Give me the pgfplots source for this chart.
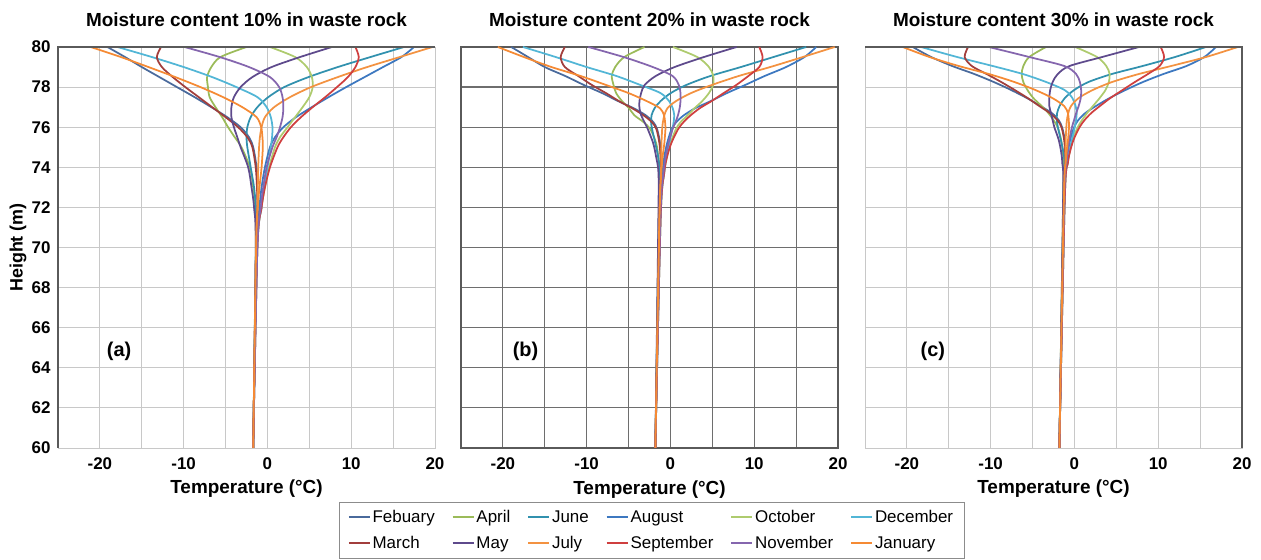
\documentclass[border=0pt]{standalone}
\usepackage{pgfplots}
\pgfplotsset{compat=1.18}
\usepackage{pgfplotstable}
\usepackage{fontspec}
\setmainfont{Liberation Sans}

% Monthly temperature profiles, height (m) against temperature (deg C)
% moisture 10 %
\pgfplotstableread{
h     Jan    Feb    Mar    Apr    May    Jun    Jul    Aug    Sep    Oct    Nov    Dec
80    -21.1  -19.1  -12.7  -2.5   7.7    16.3   19.7   17.5   10.5   0.3    -9.9   -17.9
79.5  -17.5  -17.0  -13.2  -5.6   3.9    12.3   15.8   16.0   10.9   3.3    -5.7   -13.8
79    -14.2  -15.0  -12.6  -6.7   0.5    8.4    11.9   13.8   10.5   4.7    -2.2   -10.0
78.5  -11.0  -12.9  -11.3  -7.2   -1.8   4.9    8.4    11.6   9.6    5.3    0.3    -6.6
78    -8.0   -10.8  -9.8   -7.1   -3.2   2.0    5.2    9.4    8.3    5.4    1.4    -3.7
77.5  -5.3   -8.7   -8.2   -6.9   -4.0   0.1    2.7    7.3    6.9    5.0    1.8    -1.2
77    -3.0   -6.7   -6.6   -6.2   -4.3   -1.2   0.8    5.3    5.4    4.2    1.9    -0.1
76.5  -1.3   -4.8   -5.0   -5.4   -4.3   -2.0   -0.3   3.4    4.0    3.3    1.8    0.4
76    -0.75  -3.2   -3.5   -4.7   -4.0   -2.4   -0.7   1.9    2.8    2.4    1.5    0.6
75.5  -0.6   -2.2   -2.4   -3.9   -3.6   -2.5   -0.9   0.9    1.9    1.5    1.1    0.55
75    -0.55  -1.7   -1.8   -3.1   -3.2   -2.4   -1.0   0.3    1.2    0.9    0.6    0.4
74    -0.7   -1.3   -1.4   -2.1   -2.3   -2.0   -1.1   -0.3   0.3    0.2    -0.1   0.0
73    -0.95  -1.2   -1.25  -1.7   -1.9   -1.6   -1.15  -0.7   -0.3   -0.3   -0.5   -0.4
72    -1.15  -1.2   -1.2   -1.45  -1.6   -1.4   -1.2   -0.95  -0.7   -0.7   -0.8   -0.7
70    -1.35  -1.35  -1.35  -1.4   -1.4   -1.35  -1.35  -1.3   -1.2   -1.2   -1.2   -1.2
60    -1.7   -1.7   -1.7   -1.7   -1.7   -1.7   -1.7   -1.7   -1.7   -1.7   -1.7   -1.7
}\tabA

% moisture 20 %
\pgfplotstableread{
h     Jan    Feb    Mar    Apr    May    Jun    Jul    Aug    Sep    Oct    Nov    Dec
80    -20.6  -19.0  -12.6  -3.1   7.9    16.2   19.6   17.4   10.6   0.3    -9.8   -17.6
79.5  -17.5  -17.0  -13.1  -5.5   4.0    12.3   15.8   16.0   11.0   3.2    -5.6   -13.7
79    -14.2  -15.0  -12.6  -6.6   0.5    8.4    11.9   13.8   10.6   4.6    -2.1   -10.0
78.55 -10.7  -12.54 -10.99 -7.0   -1.77  4.73   8.12   11.23  9.29   5.11   0.26   -6.43
78.1  -7.65  -10.31 -9.36  -6.79  -3.09  1.86   4.9    8.89   7.84   5.09   1.0    -3.56
77.7  -4.99  -8.15  -7.69  -6.48  -3.5   0.03   2.45   6.73   6.35   4.59   1.2    -1.18
77.3  -2.83  -6.24  -6.14  -5.78  -3.7   -1.18  0.66   4.8    4.9    3.79   1.2    -0.16
76.95 -1.26  -4.41  -4.59  -4.95  -3.7   -1.89  -0.36  2.97   3.51   2.88   1.1    0.27
76.6  -0.77  -2.97  -3.24  -4.32  -3.5   -2.25  -0.72  1.62   2.43   2.07   0.9    0.45
76.25 -0.64  -2.04  -2.22  -3.2   -3.1   -2.31  -0.9   0.68   1.56   1.21   0.6    0.38
75.9  -0.6   -1.59  -1.67  -2.4   -2.7   -2.19  -0.99  0.13   0.91   0.65   0.25   0.22
75.2  -0.73  -1.23  -1.32  -1.7   -2.06  -1.81  -1.07  -0.4   0.1    0.01   -0.24  -0.15
74.5  -0.94  -1.14  -1.18  -1.45  -1.7   -1.46  -1.1   -0.74  -0.42  -0.42  -0.58  -0.5
73.7  -1.09  -1.13  -1.13  -1.3   -1.43  -1.28  -1.13  -0.94  -0.75  -0.75  -0.83  -0.75
71.5  -1.3   -1.32  -1.32  -1.39  -1.44  -1.38  -1.32  -1.24  -1.17  -1.17  -1.2   -1.17
60    -1.8   -1.8   -1.8   -1.8   -1.8   -1.8   -1.8   -1.8   -1.8   -1.8   -1.8   -1.8
}\tabB

% moisture 30 %
\pgfplotstableread{
h     Jan    Feb    Mar    Apr    May    Jun    Jul    Aug    Sep    Oct    Nov    Dec
80    -20.5  -19.3  -12.7  -3.4   7.7    15.7   19.5   16.9   10.3   0.1    -10.2  -18.3
79.5  -17.3  -17.1  -13.1  -5.4   3.3    12.0   15.7   15.5   10.7   2.7    -5.4   -14.0
79.05 -13.8  -14.58 -12.25 -6.1   -0.6   8.12   11.52  13.36  10.16  3.8    -1.2   -9.73
78.65 -10.19 -11.94 -10.47 -6.3   -2.0   4.44   7.66   10.6   8.76   4.2    0.2    -6.14
78.25 -7.15  -9.61  -8.73  -6.1   -2.6   1.65   4.47   8.16   7.2    4.1    0.65   -3.36
77.85 -4.64  -7.53  -7.11  -5.6   -2.9   -0.05  2.16   6.07   5.73   3.7    0.8    -1.16
77.45 -2.62  -5.66  -5.57  -4.9   -3.0   -1.15  0.49   4.18   4.27   3.0    0.75   -0.24
77.05 -1.22  -4.02  -4.18  -3.9   -3.0   -1.78  -0.42  2.54   3.02   2.2    0.5    0.14
76.7  -0.78  -2.69  -2.93  -3.1   -2.8   -2.07  -0.74  1.28   1.99   1.5    0.2    0.27
76.35 -0.68  -1.88  -2.03  -2.5   -2.6   -2.1   -0.9   0.45   1.2    0.9    -0.05  0.19
76.0  -0.65  -1.48  -1.55  -2.0   -2.4   -1.98  -0.97  -0.04  0.61   0.4    -0.3   0.04
75.4  -0.76  -1.17  -1.24  -1.6   -1.9   -1.65  -1.04  -0.49  -0.08  -0.2   -0.6   -0.29
74.8  -0.93  -1.09  -1.12  -1.4   -1.6   -1.34  -1.06  -0.77  -0.52  -0.55  -0.8   -0.59
74.2  -1.04  -1.07  -1.07  -1.3   -1.45  -1.18  -1.07  -0.93  -0.79  -0.8   -0.95  -0.79
72.5  -1.25  -1.28  -1.28  -1.35  -1.35  -1.3   -1.25  -1.2   -1.15  -1.15  -1.2   -1.15
60    -1.8   -1.8   -1.8   -1.8   -1.8   -1.8   -1.8   -1.8   -1.8   -1.8   -1.8   -1.8
}\tabC

\definecolor{cFeb}{HTML}{4A6A9C}
\definecolor{cMar}{HTML}{A23E3C}
\definecolor{cApr}{HTML}{9BBB59}
\definecolor{cMay}{HTML}{5E4A8C}
\definecolor{cJun}{HTML}{3191AE}
\definecolor{cJul}{HTML}{F39241}
\definecolor{cAug}{HTML}{3D78C0}
\definecolor{cSep}{HTML}{CF3F3F}
\definecolor{cOct}{HTML}{AECB6E}
\definecolor{cNov}{HTML}{8566AE}
\definecolor{cDec}{HTML}{52B6D6}
\definecolor{cJan}{HTML}{F58A34}
\definecolor{gridlight}{HTML}{C8C8C8}
\definecolor{griddark}{HTML}{6E6E6E}
\definecolor{framedark}{HTML}{5A5A5A}

\pgfplotsset{
  mon/.style={no markers, smooth, line width=1.75bp},
  panel/.style={
    width=377bp, height=401bp, scale only axis, anchor=south west,
    xmin=-25, xmax=20, ymin=60, ymax=80,
    xtick={-20,-10,0,10,20}, xticklabels={-20,-10,0,10,20},
    minor xtick={-15,-5,5,15},
    ytick={60,62,...,80},
    grid=both,
    major tick length=0pt, minor tick length=0pt,
    /pgf/number format/assume math mode=true,
    xticklabel style={font=\bfseries\fontsize{17}{17}\selectfont, anchor=base, yshift=-22bp},
    xlabel={Temperature (°C)},
    xlabel style={at={(axis description cs:0.5,0)}, anchor=base, yshift=-46bp,
      font=\bfseries\fontsize{19}{19}\selectfont},
    title style={at={(axis description cs:0.5,1)}, anchor=base, yshift=15bp,
      font=\bfseries\fontsize{19}{19}\selectfont},
  },
  lightgrid/.style={
    major grid style={draw=gridlight, line width=0.9bp},
    minor grid style={draw=gridlight, line width=0.9bp},
    axis line style={draw=gridlight, line width=0.9bp},
  },
  darkgrid/.style={
    major grid style={draw=griddark, line width=1.2bp},
    minor grid style={draw=griddark, line width=1.2bp},
    axis line style={draw=framedark, line width=1.5bp},
  },
}

% the twelve monthly profiles of one table, in legend order
\newcommand\profiles[1]{%
  \addplot[mon, cFeb] table[x=Feb, y=h]{#1};
  \addplot[mon, cApr] table[x=Apr, y=h]{#1};
  \addplot[mon, cJun] table[x=Jun, y=h]{#1};
  \addplot[mon, cAug] table[x=Aug, y=h]{#1};
  \addplot[mon, cOct] table[x=Oct, y=h]{#1};
  \addplot[mon, cDec] table[x=Dec, y=h]{#1};
  \addplot[mon, cMar] table[x=Mar, y=h]{#1};
  \addplot[mon, cMay] table[x=May, y=h]{#1};
  \addplot[mon, cJul] table[x=Jul, y=h]{#1};
  \addplot[mon, cSep] table[x=Sep, y=h]{#1};
  \addplot[mon, cNov] table[x=Nov, y=h]{#1};
  \addplot[mon, cJan] table[x=Jan, y=h]{#1};
}

\begin{document}
\begin{tikzpicture}
\useasboundingbox (0,0) rectangle (1261bp,560bp);

\begin{axis}[panel, lightgrid, name=A, at={(58bp,112bp)},
  title={Moisture content 10\% in waste rock},
  yticklabels={60,62,64,66,68,70,72,74,76,78,80},
  yticklabel style={font=\bfseries\fontsize{17}{17}\selectfont, anchor=east, xshift=-4bp},
  ylabel={Height (m)},
  ylabel style={at={(axis description cs:-0.1061,0.5)}, anchor=center,
    font=\bfseries\fontsize{18}{18}\selectfont},
]
\profiles{\tabA}
\node[font=\bfseries\fontsize{20}{20}\selectfont] at (axis cs:-17.7,64.8) {(a)};
\end{axis}
\draw[framedark, line width=1.3bp] (A.south west) -- (A.north west) -- (A.north east);

\begin{axis}[panel, darkgrid, name=B, at={(461bp,112bp)},
  title={Moisture content 20\% in waste rock},
  yticklabels={},
  legend columns=6,
  legend image code/.code={\draw[#1] (0bp,0bp) -- (21bp,0bp);},
  legend style={at={(0.5053,-0.2045)}, anchor=center, draw=black!45,
    line width=0.6bp, fill=white, font=\fontsize{17}{19}\selectfont,
    nodes={minimum height=26bp},
    /tikz/every even column/.append style={column sep=15bp},
    inner xsep=9bp, inner ysep=2bp},
  legend cell align=left,
]
\profiles{\tabB}
\node[font=\bfseries\fontsize{20}{20}\selectfont] at (axis cs:-17.3,64.8) {(b)};
\legend{Febuary, April, June, August, October, December,
        March, May, July, September, November, January}
\end{axis}

\begin{axis}[panel, lightgrid, name=C, at={(865bp,112bp)},
  title={Moisture content 30\% in waste rock},
  yticklabels={},
]
\profiles{\tabC}
\node[font=\bfseries\fontsize{20}{20}\selectfont] at (axis cs:-16.9,64.8) {(c)};
\end{axis}
\draw[framedark, line width=1.3bp] (C.north west) -- (C.north east) -- (C.south east);
\end{tikzpicture}
\end{document}
